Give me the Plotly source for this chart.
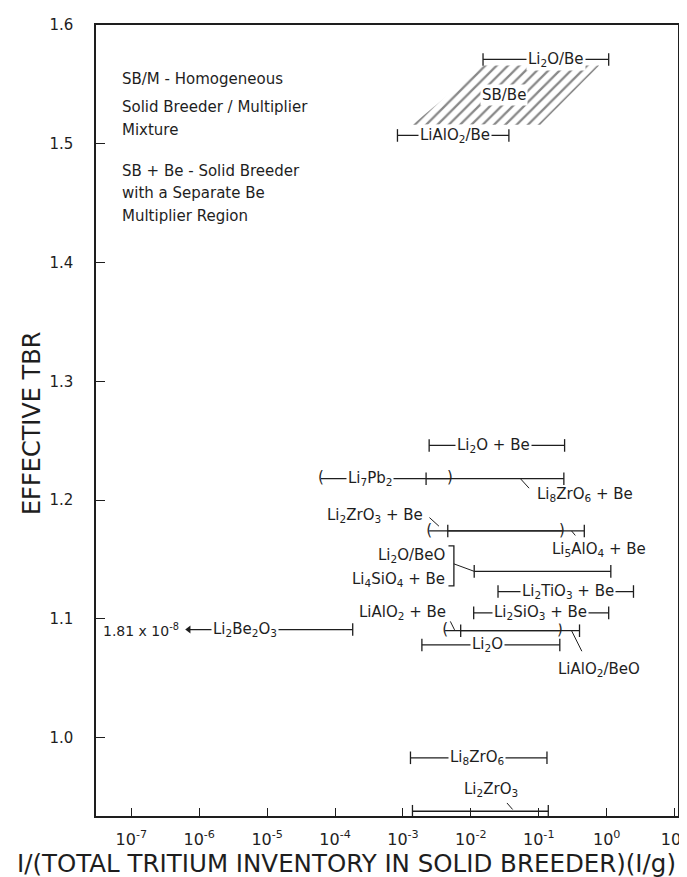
import numpy as np
import plotly.graph_objects as go

# ---------------- data ----------------
bar_labels = ["Li2O/Be", "LiAlO2/Be", "Li2O + Be", "Li7Pb2", "Li8ZrO6 + Be",
              "Li2ZrO3 + Be", "Li5AlO4 + Be", "Li2O/BeO, Li4SiO4 + Be",
              "Li2TiO3 + Be", "Li2SiO3 + Be", "LiAlO2 + Be", "LiAlO2/BeO",
              "Li2O", "Li2Be2O3", "Li8ZrO6", "Li2ZrO3"]
bar_x_low = [1.51e-2, 8.3e-4, 2.43e-3, 6.2e-5, 2.19e-3,
             2.43e-3, 4.57e-3, 1.12e-2,
             2.51e-2, 1.10e-2, 4.17e-3, 7.08e-3,
             1.90e-3, 1.81e-8, 1.29e-3, 1.38e-3]
bar_x_high = [1.07, 3.63e-2, 0.240, 4.9e-3, 0.234,
              0.219, 0.468, 1.15,
              2.48, 1.07, 0.204, 0.398,
              0.204, 1.82e-4, 0.132, 0.138]
bar_tbr = [1.571, 1.507, 1.246, 1.218, 1.218,
           1.174, 1.174, 1.140,
           1.123, 1.105, 1.090, 1.090,
           1.078, 1.091, 0.983, 0.938]
bar_left_end = ["|", "|", "|", "(", "|", "(", "|", "|", "|", "|", "(", "|", "|", "<", "|", "|"]
bar_right_end = ["|", "|", "|", ")", "|", ")", "|", "|", "|", "|", ")", "|", "|", "|", "|", "|"]
li2be2o3_drawn_start = 7.0e-7      # where the off-scale Li2Be2O3 range is cut by its arrow

sb_be_x = [1.38e-3, 0.105, 0.776, 1.51e-2]   # hatched SB/Be mixture region
sb_be_y = [1.516, 1.516, 1.566, 1.566]

x_tick_exp = [-7, -6, -5, -4, -3, -2, -1, 0, 1]
y_ticks = [1.0, 1.1, 1.2, 1.3, 1.4, 1.5, 1.6]

# ---------------- style ----------------
INK = "#1e1e1e"
FONT = "DejaVu Sans"
LW = 1.3

fig = go.Figure()

# hatched region
fig.add_trace(go.Scatter(
    x=sb_be_x + [sb_be_x[0]], y=sb_be_y + [sb_be_y[0]],
    mode="lines", fill="toself", line=dict(width=0, color="rgba(0,0,0,0)"),
    fillcolor="rgba(0,0,0,0)",
    fillpattern=dict(shape="/", fgcolor="#111111", bgcolor="rgba(0,0,0,0)", size=8, solidity=0.28),
    hoverinfo="skip", showlegend=False))

cap_x, cap_y = [], []
par_x, par_y, par_t = [], [], []
arr_x, arr_y = [], []
for i in range(len(bar_labels)):
    x0 = li2be2o3_drawn_start if bar_left_end[i] == "<" else bar_x_low[i]
    x1 = bar_x_high[i]
    y = bar_tbr[i]
    fig.add_trace(go.Scatter(x=[x0, x1], y=[y, y], mode="lines",
                             line=dict(color=INK, width=LW), hoverinfo="skip", showlegend=False))
    for xe, kind in ((x0, bar_left_end[i]), (x1, bar_right_end[i])):
        if kind == "|":
            cap_x.append(xe); cap_y.append(y)
        elif kind == "<":
            arr_x.append(xe); arr_y.append(y)
        else:
            par_x.append(xe); par_y.append(y); par_t.append(kind)

fig.add_trace(go.Scatter(x=cap_x, y=cap_y, mode="markers",
                         marker=dict(symbol="line-ns", size=9, line=dict(color=INK, width=LW)),
                         hoverinfo="skip", showlegend=False))
fig.add_trace(go.Scatter(x=par_x, y=par_y, mode="text", text=par_t,
                         textfont=dict(family=FONT, size=15, color=INK), textposition="middle center",
                         hoverinfo="skip", showlegend=False))
fig.add_trace(go.Scatter(x=arr_x, y=arr_y, mode="markers",
                         marker=dict(symbol="triangle-left", size=7, color=INK),
                         hoverinfo="skip", showlegend=False))

# bracket joining Li2O/BeO and Li4SiO4 + Be to their shared bar
bx_in, bx_out = 10 ** -2.25, 10 ** -2.33
fig.add_trace(go.Scatter(x=[bx_out, bx_in, bx_in, bx_out], y=[1.1614, 1.1614, 1.1278, 1.1278],
                         mode="lines", line=dict(color=INK, width=LW), hoverinfo="skip", showlegend=False))
fig.add_trace(go.Scatter(x=[bx_in, bar_x_low[7]], y=[1.1463, bar_tbr[7]],
                         mode="lines", line=dict(color=INK, width=1.0), hoverinfo="skip", showlegend=False))

ann = []


def label(text, xlog, y, anchor="center", size=15, bg=True):
    ann.append(dict(x=xlog, y=y, xref="x", yref="y", text=text, showarrow=False,
                    xanchor=anchor, yanchor="middle",
                    font=dict(family=FONT, size=size, color=INK),
                    bgcolor="white" if bg else None, borderpad=1))


def leader(xlog, y, ax, ay):
    ann.append(dict(x=xlog, y=y, xref="x", yref="y", text="", showarrow=True,
                    arrowhead=0, arrowwidth=1, arrowcolor=INK, ax=ax, ay=ay))


label("Li<sub>2</sub>O/Be", -0.75, bar_tbr[0])
label("SB/Be", -1.515, 1.541)
label("LiAlO<sub>2</sub>/Be", -2.24, bar_tbr[1])
label("Li<sub>2</sub>O + Be", -1.66, bar_tbr[2])
label("Li<sub>7</sub>Pb<sub>2</sub>", -3.48, bar_tbr[3])
label("Li<sub>8</sub>ZrO<sub>6</sub> + Be", -1.05, 1.205, anchor="left", bg=False)
leader(-1.27, bar_tbr[4], 10, 11)
label("Li<sub>2</sub>ZrO<sub>3</sub> + Be", -2.67, 1.187, anchor="right", bg=False)
leader(-2.47, 1.178, -11, -10)
label("Li<sub>5</sub>AlO<sub>4</sub> + Be", -0.11, 1.158, bg=False)
leader(-0.517, bar_tbr[6], 5, 6)
label("Li<sub>2</sub>O/BeO", -2.35, 1.153, anchor="right", bg=False)
label("Li<sub>4</sub>SiO<sub>4</sub> + Be", -2.35, 1.133, anchor="right", bg=False)
label("Li<sub>2</sub>TiO<sub>3</sub> + Be", -0.575, bar_tbr[8])
label("Li<sub>2</sub>SiO<sub>3</sub> + Be", -0.98, bar_tbr[9])
label("LiAlO<sub>2</sub> + Be", -2.33, 1.105, anchor="right", bg=False)
leader(-2.24, 1.0907, -5, -10)
label("LiAlO<sub>2</sub>/BeO", -0.11, 1.057, bg=False)
leader(-0.517, bar_tbr[11], 11, 22)
label("Li<sub>2</sub>O", -1.76, bar_tbr[12])
label("Li<sub>2</sub>Be<sub>2</sub>O<sub>3</sub>", -5.32, bar_tbr[13])
label("1.81 x 10<sup>-8</sup>", -6.27, bar_tbr[13], anchor="right", size=14, bg=False)
label("Li<sub>8</sub>ZrO<sub>6</sub>", -1.906, bar_tbr[14])
label("Li<sub>2</sub>ZrO<sub>3</sub>", -1.70, 0.956, bg=False)
leader(-1.385, 0.9395, -7, -8)

# explanatory text block (paper coordinates)
for txt, py in [("SB/M - Homogeneous", 0.9317), ("Solid Breeder / Multiplier", 0.8963),
                ("Mixture", 0.8673), ("SB + Be - Solid Breeder", 0.8154),
                ("with a Separate Be", 0.7876), ("Multiplier Region", 0.7585)]:
    ann.append(dict(x=0.0405, y=py, xref="paper", yref="paper", text=txt, showarrow=False,
                    xanchor="left", yanchor="middle", font=dict(family=FONT, size=15, color=INK)))

# axis titles
ann.append(dict(x=0.43, y=-0.06, xref="paper", yref="paper",
                text="I/(TOTAL TRITIUM INVENTORY IN SOLID BREEDER)(I/g)", showarrow=False,
                xanchor="center", yanchor="middle", font=dict(family=FONT, size=24.5, color=INK)))
ann.append(dict(x=-0.111, y=0.496, xref="paper", yref="paper", text="EFFECTIVE TBR",
                showarrow=False, textangle=-90, xanchor="center", yanchor="middle",
                font=dict(family=FONT, size=24, color=INK)))

fig.update_layout(
    width=687, height=877,
    margin=dict(l=88, r=7, t=17, b=69),
    paper_bgcolor="white", plot_bgcolor="white",
    showlegend=False, annotations=ann,
    xaxis=dict(type="log", range=[-7.52, 1.05],
               tickvals=[10.0 ** e for e in x_tick_exp],
               ticktext=[f"10<sup>{e}</sup>" for e in x_tick_exp],
               ticks="inside", ticklen=8, tickwidth=1.2, tickcolor=INK,
               showline=True, linecolor=INK, linewidth=1.5, mirror=True,
               showgrid=False, zeroline=False, ticklabelstandoff=8,
               ticklabeloverflow="allow",
               tickfont=dict(family=FONT, size=16, color=INK)),
    yaxis=dict(range=[0.934, 1.6], tickvals=y_ticks,
               ticktext=[f"{v:.1f}" for v in y_ticks],
               ticks="inside", ticklen=9, tickwidth=1.2, tickcolor=INK,
               showline=True, linecolor=INK, linewidth=1.5, mirror=True,
               showgrid=False, zeroline=False, ticklabelstandoff=18,
               tickfont=dict(family=FONT, size=15, color=INK)),
)

fig.write_html("out.html")
